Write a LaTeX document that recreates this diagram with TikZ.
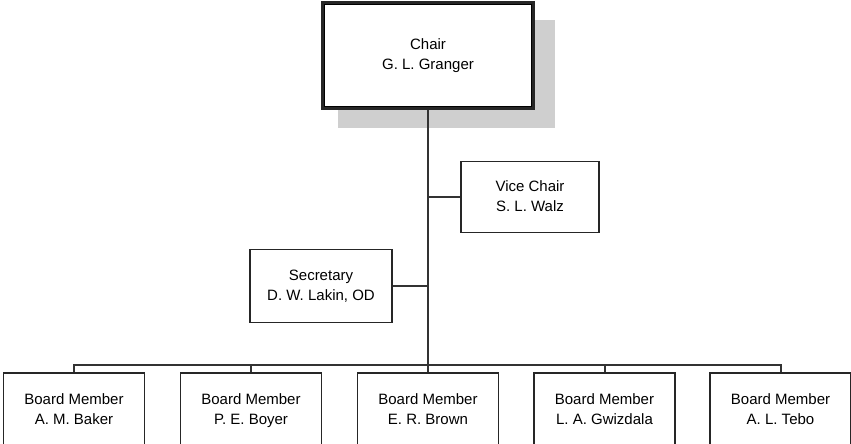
\documentclass[tikz,border=0pt]{standalone}
\usepackage{fontspec}
\setmainfont{Liberation Sans}
\begin{document}
\begin{tikzpicture}[x=1pt,y=-1pt,
  orgbox/.style={draw=black!85, line width=1.5pt, fill=white, align=center,
    inner sep=0pt, font=\fontsize{15}{20}\selectfont},
  link/.style={draw=black!80, line width=2pt}]
\clip (0,0) rectangle (851,444);
\fill[white] (0,0) rectangle (851,444);
% chair with drop shadow and double frame
\fill[black!19] (338,20) rectangle (555,128);
\node[orgbox, line width=2.6pt, minimum width=211pt, minimum height=106pt] (chair) at (428,55.5) {\strut Chair\\\strut G. L. Granger};
\draw[line width=0.9pt] ([shift={(3.6,3.6)}]chair.north west) rectangle ([shift={(-3.6,-3.6)}]chair.south east);
% officers
\node[orgbox, minimum width=138pt, minimum height=71pt] (vice) at (530,197) {\strut Vice Chair\\\strut S. L. Walz};
\node[orgbox, minimum width=142pt, minimum height=73pt] (sec) at (321,286) {\strut Secretary\\\strut D. W. Lakin, OD};
% board members
\foreach \n/\x/\t in {m1/74/{A. M. Baker}, m2/251/{P. E. Boyer}, m3/428/{E. R. Brown}, m4/604.5/{L. A. Gwizdala}, m5/780.5/{A. L. Tebo}}
  \node[orgbox, minimum width=141pt, minimum height=74pt] (\n) at (\x,410) {\strut Board Member\\\strut \t};
\coordinate (bus) at (428,365);
% connectors
\draw[link] (chair.south) -- (bus);
\draw[link] (vice.west) -- (vice.west -| chair.south);
\draw[link] (sec.east) -- (sec.east -| chair.south);
\draw[link] (m1.north) |- (bus) -| (m5.north);
\foreach \n in {m2,m3,m4}
  \draw[link] (\n.north) -- (\n.north |- bus);
\end{tikzpicture}
\end{document}
